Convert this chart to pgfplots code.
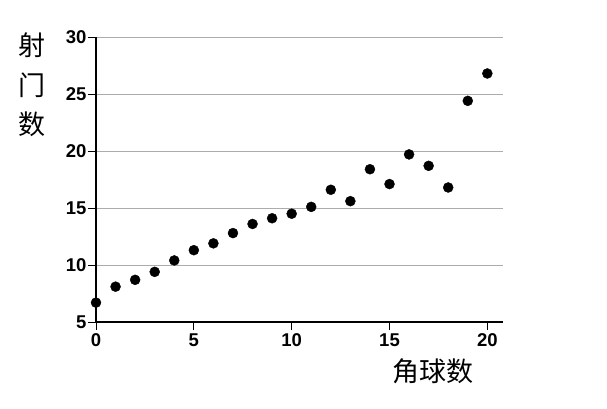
\documentclass[border=0pt]{standalone}
\usepackage{fontspec}
\setmainfont{Liberation Sans}
\newfontfamily\cjk{Noto Sans CJK SC}
\usepackage{pgfplots}
\pgfplotsset{compat=1.18}
\begin{document}
\begin{tikzpicture}
\path[use as bounding box] (-96pt,-86pt) rectangle (511pt,322pt);
\begin{axis}[
  at={(0,0)}, anchor=south west,
  scale only axis, width=407pt, height=285pt,
  xmin=0, xmax=20.8, ymin=5, ymax=30,
  axis lines=left,
  axis line style={-, line width=1.4pt},
  xtick={0,5,...,20}, ytick={5,10,...,30},
  tick align=outside, major tick length=8pt,
  tick style={line width=1pt, black},
  ymajorgrids, grid style={gray!65, line width=0.6pt},
  ticklabel style={font=\fontsize{18.5}{20}\selectfont\bfseries},
  xticklabel style={yshift=0pt},
  yticklabel style={xshift=2pt},
  /pgf/number format/assume math mode=true,
  clip=false,
]
\addplot[only marks, mark=*, mark size=5pt, black] coordinates {
  (0,6.7) (1,8.1) (2,8.7) (3,9.4) (4,10.4) (5,11.3) (6,11.9) (7,12.8)
  (8,13.6) (9,14.1) (10,14.5) (11,15.1) (12,16.6) (13,15.6) (14,18.4)
  (15,17.1) (16,19.7) (17,18.7) (18,16.8) (19,24.4) (20,26.8)
};
\end{axis}
\node[font=\cjk\fontsize{27}{30}\selectfont] at (-64pt,277pt) {射};
\node[font=\cjk\fontsize{27}{30}\selectfont] at (-64pt,237pt) {门};
\node[font=\cjk\fontsize{27}{30}\selectfont] at (-64pt,198pt) {数};
\node[font=\cjk\fontsize{27}{30}\selectfont] at (337pt,-49pt) {角球数};
\end{tikzpicture}
\end{document}
